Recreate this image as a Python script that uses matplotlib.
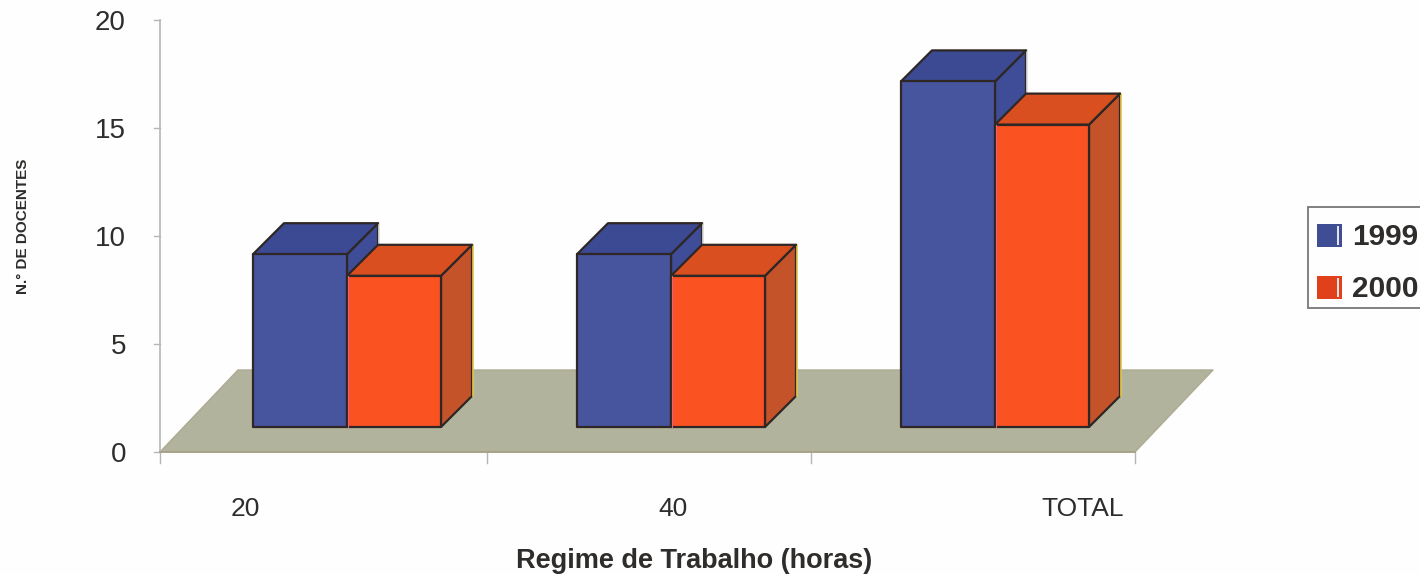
import matplotlib
matplotlib.use("Agg")
import matplotlib.pyplot as plt
from matplotlib.patches import Polygon, Rectangle

plt.rcParams['font.family'] = ['Liberation Sans', 'DejaVu Sans']

categories = ["20", "40", "TOTAL"]
series_names = ["1999", "2000"]
values_1999 = [8, 8, 16]
values_2000 = [7, 7, 14]
y_ticks = [0, 5, 10, 15, 20]

W, H = 1420, 574
fig = plt.figure(figsize=(W / 100, H / 100), dpi=100, facecolor='#fdfefd')

# axes box = front plane of the 3d chart, from the picture
x0, x1, y_top, y_bot = 160, 1132, 20, 452
ax = fig.add_axes([x0 / W, 1 - y_bot / H, (x1 - x0) / W, (y_bot - y_top) / H])
ax.set_xlim(0, 3)
ax.set_ylim(0, 20)
ax.patch.set_alpha(0)
for s in ax.spines.values():
    s.set_visible(False)
ax.set_xticks([])
ax.set_yticks([])

px = 3 / (x1 - x0)
py = 20 / (y_bot - y_top)

# everything may stick out of the axes box
def poly(pts, fc, ec='#2e2725', lw=1.6, z=3):
    p = Polygon(pts, closed=True, facecolor=fc, edgecolor=ec, linewidth=lw, joinstyle='round', zorder=z, clip_on=False)
    ax.add_patch(p)

# floor
floor_dx, floor_dy = 78 * px, 82 * py
floor_end = 3 + 3 * px
poly([(0, 0), (floor_end, 0), (floor_end + floor_dx, floor_dy), (floor_dx, floor_dy)], '#b2b39c', ec='#adaa92', lw=1, z=1)
ax.plot([0, floor_end], [0, 0], color='#a89f85', lw=1.2, zorder=2, clip_on=False)

# axis lines and ticks
axis_col = '#b4b6b8'
ax.plot([0, 0], [0, 20], color=axis_col, lw=1.2, zorder=1, clip_on=False)
for t in y_ticks:
    ax.plot([-6 * px, 0], [t, t], color=axis_col, lw=1.0, zorder=1, clip_on=False)
for i in range(len(categories) + 1):
    tx = i + (3 * px if i > 0 else 0)
    ax.plot([tx, tx], [0, -11 * py], color=axis_col, lw=1.0, zorder=1, clip_on=False)

# bars
bar_w = 94 * px
base_dx, base_dy = 25 * px, 25 * py
dx, dy = 31 * px, 31 * py


def draw_bar(left, val, front, top, side, glint):
    b = base_dy
    t = base_dy + val
    r = left + bar_w
    poly([(r, b), (r + dx, b + dy), (r + dx, t + dy), (r, t)], side)
    # the scan shows a coloured fringe on the back edge
    ax.plot([r + dx + px, r + dx + px], [b + dy, t + dy], color=glint, lw=1.2, zorder=3, clip_on=False)
    poly([(left, t), (r, t), (r + dx, t + dy), (left + dx, t + dy)], top)
    poly([(left, b), (r, b), (r, t), (left, t)], front)


for i in range(len(categories)):
    c = i + 0.5 + base_dx
    draw_bar(c - bar_w, values_1999[i], '#47559f', '#3c4a94', '#3f4c98', '#dfe0d8')
    draw_bar(c, values_2000[i], '#fb5222', '#d94f20', '#c5532a', '#e6c84a')
    ax.plot([c + px, c + px], [base_dy, base_dy + values_2000[i]], color='#e8607a', lw=0.8, zorder=4, clip_on=False)

# tick labels
text_col = '#2f2d2c'
for t in y_ticks:
    ax.text(-34 * px, t - 3.5 * py, str(t), ha='right', va='center', fontsize=20, color=text_col, clip_on=False)

label_x = [245, 673, 1083]
for lab, lx in zip(categories, label_x):
    fig.text(lx / W, 1 - 509 / H, lab, ha='center', va='center', fontsize=19, color=text_col)

fig.text(694 / W, 1 - 561 / H, "Regime de Trabalho (horas)", ha='center', va='center', fontsize=19.5, fontweight='bold', color=text_col)
fig.text(23 / W, 1 - 226 / H, "N.° DE DOCENTES", ha='center', va='center', rotation=90, fontsize=11, fontweight='bold', color=text_col)

# legend box runs off the right edge like in the scan
fig.add_artist(Rectangle((1308 / W, 1 - 308 / H), 130 / W, 101 / H, transform=fig.transFigure, facecolor='#fdfefd', edgecolor='#77777a', linewidth=1.3))
legend_cols = ['#3f4d95', '#e0401a']
legend_y = [235, 287]
for name, col, ly in zip(series_names, legend_cols, legend_y):
    fig.add_artist(Rectangle((1317 / W, 1 - (ly + 12) / H), 25 / W, 23 / H, transform=fig.transFigure, facecolor=col, edgecolor='none'))
    fig.add_artist(Rectangle((1337 / W, 1 - (ly + 10) / H), 2 / W, 19 / H, transform=fig.transFigure, facecolor='#e4e4e8', edgecolor='none'))
    fig.text(1352 / W, 1 - (ly + 2) / H, name, ha='left', va='center', fontsize=21.5, fontweight='bold', color=text_col)

fig.savefig("out.png", dpi=100, facecolor=fig.get_facecolor())
